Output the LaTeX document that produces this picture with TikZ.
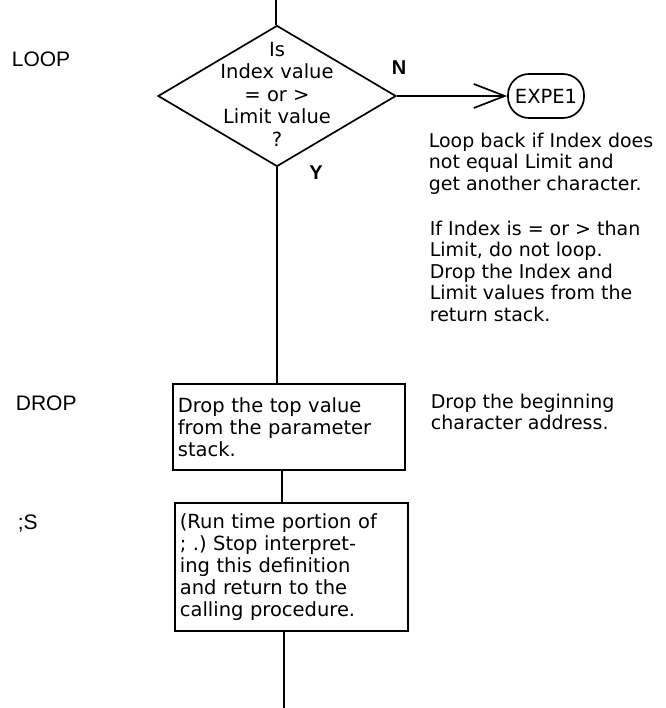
\documentclass[tikz,border=0pt]{standalone}
\usepackage{fontspec}
\setmainfont{DejaVu Sans}
\newfontfamily\lblfont{Liberation Sans}
\usetikzlibrary{arrows.meta,shapes.geometric}
\begin{document}
\frenchspacing
\begin{tikzpicture}[x=1pt,y=-1pt,line width=1.7pt,
  txt/.style={font=\fontsize{19}{21.5}\selectfont,inner sep=0pt,align=left},
  ctxt/.style={font=\fontsize{19.5}{22.5}\selectfont,inner sep=0pt,align=center},
  lbl/.style={font=\lblfont\fontsize{21}{24}\selectfont,inner sep=0pt,anchor=base west},
  yn/.style={font=\lblfont\bfseries\fontsize{20}{22}\selectfont,inner sep=0pt},
  procbox/.style={draw,rectangle,anchor=north west,inner xsep=5pt,inner ysep=0pt,
     font=\fontsize{19.5}{22}\selectfont,align=left},
  term/.style={draw,rectangle,rounded corners=21pt,minimum width=76pt,minimum height=44pt,
     inner sep=0pt,font=\fontsize{19.5}{22}\selectfont},
  barb/.style={-{Straight Barb[length=31pt,width=24pt,line width=1.7pt]}}
]
\useasboundingbox (0,0) rectangle (665,708);

% decision
\node[diamond,draw,minimum width=238pt,minimum height=141pt,inner sep=0pt,aspect=1.69] (dec) at (277,96) {};
\node[ctxt] (dectext) at (277,94) {Is\\Index value\\= or >\\Limit value\\?};
\coordinate (top) at (276,0);
\draw (top) -- (top |- dec.north);

\node[yn] (nlab) at (399,68) {N};
\node[yn] (ylab) at (316,173) {Y};

\node[term] (ex) at (546,96) {EXPE1};
\draw[barb] (dec.east) -- (ex.west);

% right comments
\node[txt,anchor=north west] (c1) at (428,132) {Loop back if Index does\\not equal Limit and\\get another character.};
\node[txt,anchor=north west] (c2) at (429,220) {If Index is = or > than\\Limit, do not loop.\\Drop the Index and\\Limit values from the\\return stack.};

% boxes
\node[procbox,minimum width=232pt,minimum height=86pt,text width=222pt] (b1) at (172,383)
  {Drop the top value\\from the parameter\\stack.};
\node[procbox,minimum width=233pt,minimum height=128pt,text width=223pt] (b2) at (174,502)
  {(Run time portion of\\; .) Stop interpret-\\ing this definition\\and return to the\\calling procedure.};

\node[txt,anchor=north west] (c3) at (430,393) {Drop the beginning\\character address.};

% labels
\node[lbl] (loop) at (11,67) {LOOP};
\node[lbl] (drop) at (15,410) {DROP};
\node[lbl] (semis) at (17,529) {;S};

% connectors
\draw (dec.south) -- (dec.south |- b1.north);
\coordinate (cx) at (282,0);
\draw (cx |- b1.south) -- (cx |- b2.north);
\coordinate (bot) at (284,708);
\draw (bot |- b2.south) -- (bot);
\end{tikzpicture}
\end{document}
